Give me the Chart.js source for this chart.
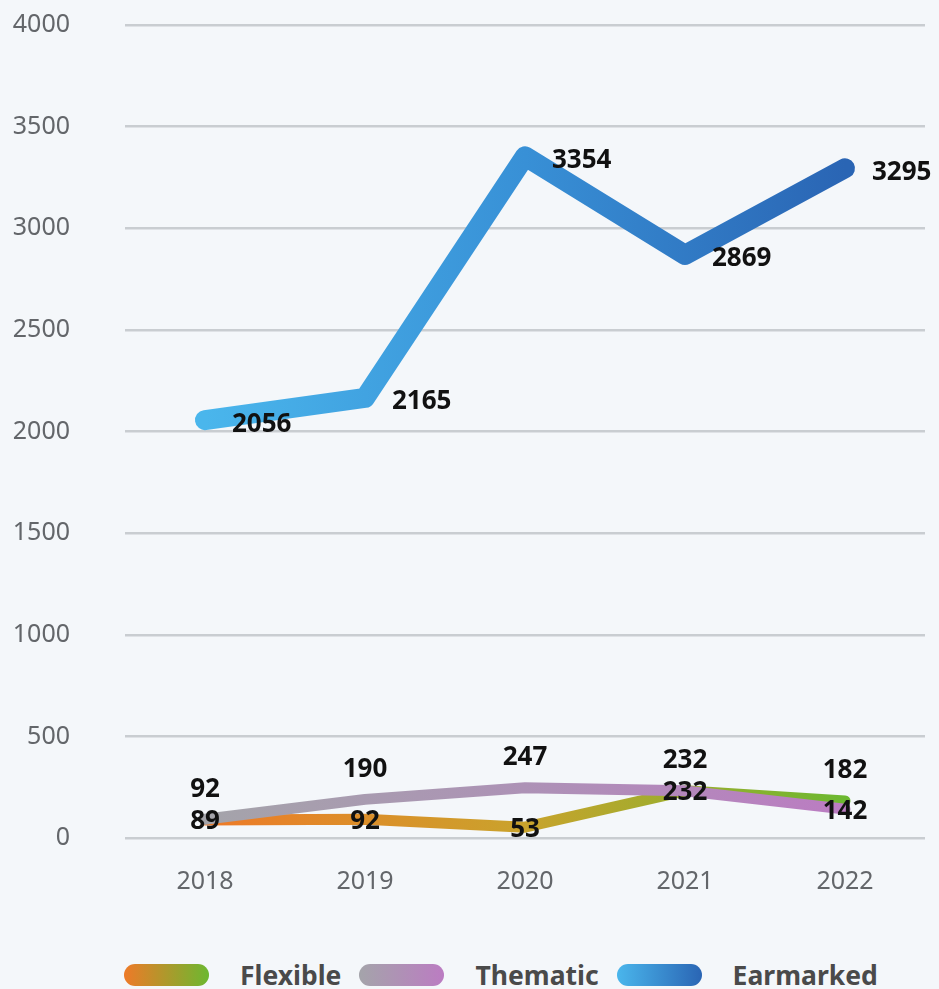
<!DOCTYPE html>
<html>
<head>
<meta charset="utf-8">
<script src="https://cdn.jsdelivr.net/npm/chart.js@4/dist/chart.umd.min.js"></script>
<style>
  html, body { margin: 0; padding: 0; background: #f4f7fa; }
  #wrap { width: 939px; height: 989px; position: relative; overflow: hidden; }
  canvas { display: block; }
  #legend { height: 69px; box-sizing: border-box; padding-top: 40px; padding-left: 124px;
            display: flex; align-items: center; font-family: "Noto Sans", sans-serif; }
  .item { display: flex; align-items: center; height: 30px; margin-right: 18px; }
  .sw { width: 85px; height: 22px; border-radius: 11px; margin-right: 31px; }
  .lbl { font-weight: 700; font-size: 26.5px; color: #4a4a4a; line-height: 30px; }
</style>
</head>
<body>
<div id="wrap">
  <canvas id="c" width="939" height="920" style="width:939px;height:920px"></canvas>
  <div id="legend"></div>
</div>
<script>
// ---- data ----
const years = ["2018", "2019", "2020", "2021", "2022"];
const flexible = [89, 92, 53, 232, 182];
const thematic = [92, 190, 247, 232, 142];
const earmarked = [2056, 2165, 3354, 2869, 3295];
const seriesNames = ["Flexible", "Thematic", "Earmarked"];
const yTicks = [0, 500, 1000, 1500, 2000, 2500, 3000, 3500, 4000];

// ---- colours ----
const gradStops = {
  Flexible: ["#ee7a28", "#c9a32c", "#6cb830"],
  Thematic: ["#a4a4aa", "#ad92b6", "#bb7cc2"],
  Earmarked: ["#4ab6ec", "#3890d6", "#2a65b4"]
};

function lineGradient(name) {
  return function (context) {
    const chart = context.chart;
    const x = chart.scales.x;
    if (!chart.chartArea || !x) return gradStops[name][0];
    const x0 = x.getPixelForValue(0), x1 = x.getPixelForValue(years.length - 1);
    const g = chart.ctx.createLinearGradient(x0, 0, x1, 0);
    const s = gradStops[name];
    g.addColorStop(0, s[0]); g.addColorStop(0.5, s[1]); g.addColorStop(1, s[2]);
    return g;
  };
}

// ---- value labels ----
const labelPlugin = {
  id: "valueLabels",
  afterDatasetsDraw(chart) {
    const ctx = chart.ctx;
    ctx.save();
    ctx.font = "700 26px 'Noto Sans', sans-serif";
    ctx.fillStyle = "#111111";
    ctx.textBaseline = "middle";
    const dsF = chart.data.datasets[0], dsT = chart.data.datasets[1];
    chart.data.datasets.forEach((ds, di) => {
      const meta = chart.getDatasetMeta(di);
      meta.data.forEach((pt, i) => {
        const v = ds.data[i];
        if (ds.label === "Earmarked") {
          ctx.textAlign = "left";
          ctx.fillText(String(v), pt.x + 27, pt.y + 4);
        } else {
          const other = ds.label === "Flexible" ? dsT.data[i] : dsF.data[i];
          let upper;
          if (v !== other) upper = v > other;
          else upper = ds.label === "Thematic";
          ctx.textAlign = "center";
          ctx.fillText(String(v), pt.x, upper ? pt.y - 30 : pt.y + 2);
        }
      });
    });
    ctx.restore();
  }
};

const font = "'Noto Sans', sans-serif";

new Chart(document.getElementById("c"), {
  type: "line",
  data: {
    labels: years,
    datasets: [
      { label: seriesNames[0], data: flexible, borderColor: lineGradient("Flexible"),
        borderWidth: 11, order: 2 },
      { label: seriesNames[1], data: thematic, borderColor: lineGradient("Thematic"),
        borderWidth: 11, order: 1 },
      { label: seriesNames[2], data: earmarked, borderColor: lineGradient("Earmarked"),
        borderWidth: 20, order: 0 }
    ]
  },
  options: {
    responsive: false,
    animation: false,
    layout: { padding: { left: 13, right: 14, top: 25, bottom: 23 } },
    elements: {
      line: { tension: 0, borderCapStyle: "round", borderJoinStyle: "round", fill: false },
      point: { radius: 0, hoverRadius: 0 }
    },
    datasets: { line: { clip: false } },
    plugins: { legend: { display: false }, tooltip: { enabled: false } },
    scales: {
      x: {
        offset: true,
        grid: { display: false, drawTicks: false },
        border: { display: false },
        ticks: { color: "#63666a", padding: 29, font: { family: font, size: 25 } },
        afterFit(axis) { axis.paddingLeft = 0; axis.paddingRight = 0; axis.height = 59; }
      },
      y: {
        min: 0, max: 4000,
        afterBuildTicks(axis) { axis.ticks = yTicks.map(v => ({ value: v })); },
        grid: { color: "#c9cdd1", lineWidth: 2.5, drawTicks: false },
        border: { display: false },
        ticks: { color: "#63666a", padding: 55, font: { family: font, size: 25 },
                 callback: (v) => String(v) },
        afterFit(axis) { axis.paddingTop = 0; axis.paddingBottom = 0; axis.width = 112; }
      }
    }
  },
  plugins: [labelPlugin]
});

// ---- legend ----
const legend = document.getElementById("legend");
seriesNames.forEach(name => {
  const item = document.createElement("div");
  item.className = "item";
  const sw = document.createElement("div");
  sw.className = "sw";
  const s = gradStops[name];
  sw.style.background = "linear-gradient(to right," + s[0] + "," + s[2] + ")";
  const t = document.createElement("span");
  t.className = "lbl";
  t.textContent = name;
  item.appendChild(sw); item.appendChild(t);
  legend.appendChild(item);
});
</script>
</body>
</html>
